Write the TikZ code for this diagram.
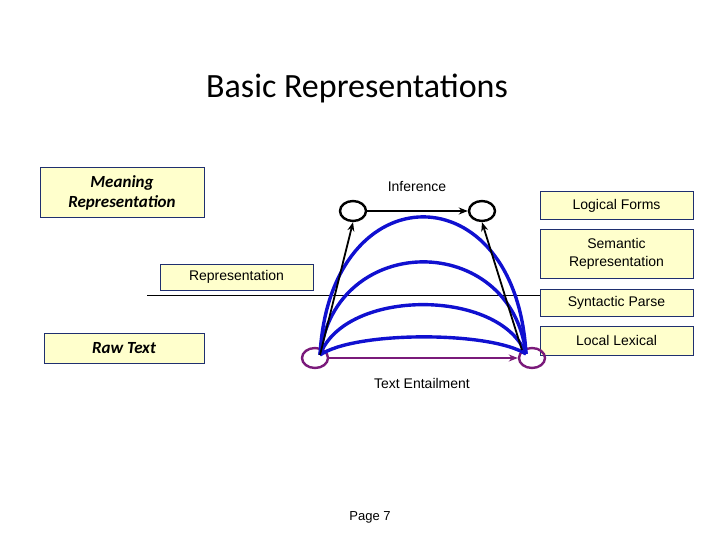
\documentclass[tikz,border=0pt]{standalone}
\usepackage{fontspec}
\setmainfont{Liberation Sans}
\newfontfamily\calib{Carlito}
\usetikzlibrary{arrows.meta,shapes.geometric}
\definecolor{boxy}{HTML}{FFFFCC}
\definecolor{boxb}{HTML}{1F2F6F}
\definecolor{pur}{HTML}{7A1A7A}
\definecolor{blu}{HTML}{1010D0}
\begin{document}
\begin{tikzpicture}[x=1pt,y=-1pt,
 box/.style={draw=boxb,fill=boxy,line width=1pt,inner sep=0pt,align=center,font=\fontsize{14}{18}\selectfont},
 circ/.style={ellipse,draw,line width=2.4pt,minimum width=26pt,minimum height=20pt,inner sep=0pt},
 bl/.style={blu,line width=3.4pt},
 ar/.style={-{Stealth[length=9pt,width=7pt]},line width=1.8pt}]
\useasboundingbox (0,0) rectangle (720,540);
\node[font=\calib\fontsize{34}{40}\selectfont] (title) at (357,88) {Basic Representations};
\node[box,minimum width=164pt,minimum height=50pt,font=\calib\bfseries\itshape\fontsize{17}{20}\selectfont] (mr) at (122,193) {Meaning\\Representation};
\node[box,minimum width=153pt,minimum height=26pt] (rep) at (236.5,277) {Representation};
\node[box,minimum width=160pt,minimum height=30pt,font=\calib\bfseries\itshape\fontsize{17}{20}\selectfont] (raw) at (124,348) {Raw Text};
\node[box,minimum width=153pt,minimum height=28pt] (lf) at (616.5,206) {Logical Forms};
\node[box,minimum width=153pt,minimum height=48pt] (sr) at (616.5,254) {Semantic\\Representation};
\node[box,minimum width=153pt,minimum height=27pt] (sp) at (616.5,302.5) {Syntactic Parse};
\node[box,minimum width=153pt,minimum height=29pt] (ll) at (616.5,340.5) {Local Lexical};
\coordinate (ls) at (147,295);
\draw[line width=1pt] (ls) -- (sp.west|-ls);
\node[font=\fontsize{14}{18}\selectfont] (inf) at (417,187) {Inference};
\node[font=\fontsize{14}{18}\selectfont] (te) at (422,383) {Text Entailment};
\node[font=\fontsize{13}{16}\selectfont] (pg) at (370,517) {Page 7};
\node[circ] (tl) at (353,211) {};
\node[circ] (tr) at (482,211) {};
\node[circ,draw=pur] (bl) at (315,358) {};
\node[circ,draw=pur] (br) at (532,358) {};
\coordinate (s) at (320,355); \coordinate (e) at (526,354);
\draw[bl] (s) .. controls (330,171) and (516,171) .. (e);
\draw[bl] (s) .. controls (335,231) and (511,231) .. (e);
\draw[bl] (s) .. controls (345,288) and (500,288) .. (e);
\draw[bl] (s) .. controls (355,331) and (490,331) .. (e);
\draw[ar] (s) -- (tl.south);
\draw[ar] (br.north west) -- (tr.south);
\draw[ar] (tl.east) -- (tr.west);
\draw[ar,pur,line width=2.6pt] (bl.east) -- (br.west);
\end{tikzpicture}
\end{document}
